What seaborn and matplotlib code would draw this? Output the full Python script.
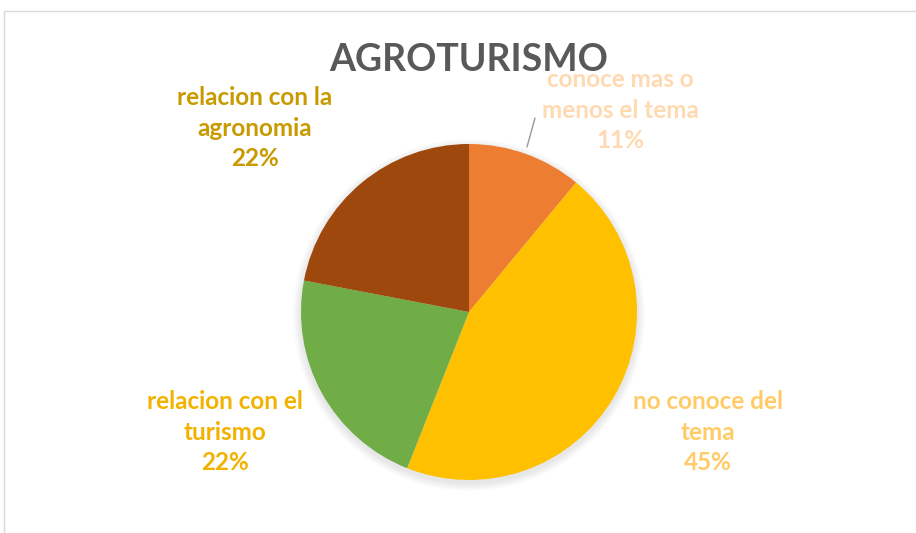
import numpy as np
import seaborn as sns
import matplotlib.pyplot as plt
from matplotlib.patches import Circle

# data
categories = ["conoce mas o\nmenos el tema", "no conoce del\ntema",
              "relacion con el\nturismo", "relacion con la\nagronomia"]
shares = [11, 45, 22, 22]
slice_colors = ["#ED7D31", "#FFC000", "#70AD47", "#9E480E"]
label_colors = ["#FFD9B0", "#FFCB66", "#F2B200", "#C99A00"]
# label centres in pixel coords (x, y from top)
label_pos = [(620, 110), (708, 432), (225, 432), (255, 128)]

sns.set_theme(style="white")
plt.rcParams['font.family'] = ['Lato', 'DejaVu Sans']

W, H = 916, 533
fig = plt.figure(figsize=(W / 100, H / 100), dpi=100)
ax = fig.add_axes([0, 0, 1, 1])
ax.set_xlim(0, W)
ax.set_ylim(0, H)
ax.set_aspect("equal")
ax.axis("off")

cx, cy, r = 469, H - 312, 168

# soft shadow under the pie
for i in range(8):
    ax.add_patch(Circle((cx, cy - 3), r + 8 - i, color="black", alpha=0.012, lw=0, zorder=1))

wedges, _ = ax.pie(shares, colors=slice_colors, startangle=90, counterclock=False,
                   center=(cx, cy), radius=r, wedgeprops=dict(linewidth=0),
                   frame=True)
for w in wedges:
    w.set_zorder(2)
ax.set_xlim(0, W)
ax.set_ylim(0, H)
ax.axis("off")

for cat, val, col, (lx, ly) in zip(categories, shares, label_colors, label_pos):
    ax.text(lx, H - ly, f"{cat}\n{val}%", color=col, fontsize=17.5, fontweight="bold",
            ha="center", va="center", linespacing=1.42, zorder=3)

# leader line for the small slice
ax.plot([535, 527], [H - 118, H - 147], color="#999999", lw=1, zorder=3)

ax.text(469, H - 60, "AGROTURISMO", color="#595959", fontsize=27, fontweight="bold",
        ha="center", va="center", zorder=3)

# chart area border (cropped at right and bottom)
ax.plot([4, 4, W], [0, H - 11, H - 11], color="#D9D9D9", lw=1, zorder=0)

fig.savefig("out.png", dpi=100)
